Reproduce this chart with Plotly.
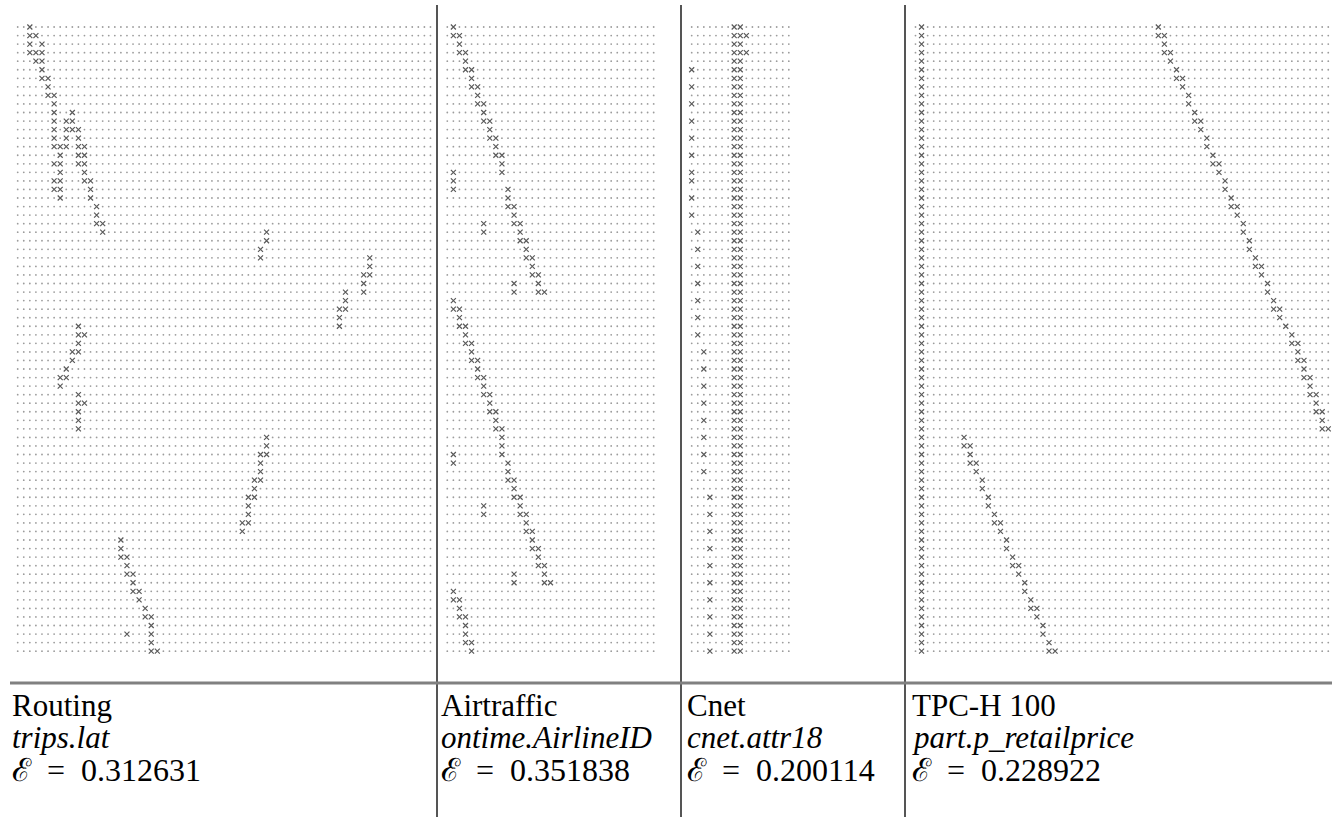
import plotly.graph_objects as go

W, H = 1332, 817

# ---------------- data ----------------
panel_names = ["Routing", "Airtraffic", "Cnet", "TPC-H 100"]
panel_fields = ["trips.lat", "ontime.AirlineID", "cnet.attr18", "part.p_retailprice"]
panel_errors = ["0.312631", "0.351838", "0.200114", "0.228922"]
panel_ncols = [69, 35, 17, 69]
N_ROWS = 74

# per-row list of grid columns holding an "x"
routing_marks = [
    [2], [2, 3], [2, 4], [2, 3, 4], [3, 4], [4], [4, 5], [5], [5, 6], [6],
    [6, 9], [6, 8, 9], [6, 8, 9, 10], [6, 8, 10], [6, 7, 8, 10, 11], [7, 10, 11],
    [6, 7, 10, 11], [7, 11], [6, 7, 11, 12], [6, 7, 12], [7, 12], [13], [13],
    [13, 14], [14, 41], [41], [40], [40, 58], [58], [57, 58], [57], [54, 57],
    [54], [53, 54], [53], [10, 53], [10, 11], [10], [9, 10], [9], [8], [7, 8],
    [7], [10], [10, 11], [10], [10], [10], [41], [41], [40, 41], [40], [40],
    [39, 40], [39], [38, 39], [38], [38], [37, 38], [37], [17], [17], [17, 18],
    [18], [18, 19], [19], [19, 20], [20], [21], [21, 22], [22], [18, 22], [22],
    [22, 23],
]

airtraffic_marks = [
    [1], [1, 2], [2], [2, 3], [3], [3, 4], [4], [4, 5], [5], [5, 6], [6], [6, 7],
    [7], [7, 8], [8], [8, 9], [9], [1, 9], [1], [1, 10], [10], [10, 11], [11],
    [6, 11, 12], [6, 12], [12, 13], [13], [13, 14], [14], [14, 15], [11, 15],
    [11, 15, 16],
    [1], [1, 2], [2], [2, 3], [3], [3, 4], [4], [4, 5], [5], [5, 6], [6], [6, 7],
    [7], [7, 8], [8], [8, 9], [9], [9], [1, 9], [1, 10], [10], [10, 11], [11],
    [11, 12], [6, 12], [6, 12, 13], [13], [13, 14], [14], [14, 15], [15],
    [15, 16], [11, 16], [11, 16, 17],
    [1], [1, 2], [2], [2, 3], [3], [3], [3, 4], [4],
]

cnet_marks = [
    [7, 8], [7, 8, 9], [7, 8], [7, 8, 9], [7, 8], [0, 7, 8], [7, 8], [0, 7, 8],
    [7, 8], [0, 7, 8], [7, 8], [0, 7, 8], [7, 8], [0, 7, 8], [7, 8], [0, 7, 8],
    [7, 8], [0, 7, 8], [0, 7, 8], [7, 8], [0, 7, 8], [7, 8], [0, 7, 8], [7, 8],
    [1, 7, 8], [7, 8], [1, 7, 8], [7, 8], [1, 7, 8], [7, 8], [1, 7, 8], [7, 8],
    [1, 7, 8], [7, 8], [1, 7, 8], [7, 8], [1, 7, 8], [7, 8], [2, 7, 8], [7, 8],
    [2, 7, 8], [7, 8], [2, 7, 8], [7, 8], [2, 7, 8], [7, 8], [2, 7, 8], [7, 8],
    [2, 7, 8], [7, 8], [2, 7, 8], [7, 8], [2, 7, 8], [7, 8], [7, 8], [3, 7, 8],
    [7, 8], [3, 7, 8], [7, 8], [3, 7, 8], [7, 8], [3, 7, 8], [7, 8], [3, 7, 8],
    [7, 8], [3, 7, 8], [7, 8], [3, 7, 8], [7, 8], [3, 7, 8], [7, 8], [3, 7, 8],
    [7, 8], [3, 7, 8],
]

tpch_marks = [
    [1, 40], [1, 40, 41], [1, 41], [1, 41, 42], [1, 42], [1, 43], [1, 43, 44],
    [1, 44], [1, 45], [1, 45], [1, 46], [1, 46, 47], [1, 47], [1, 48], [1, 48],
    [1, 49], [1, 49, 50], [1, 50], [1, 51], [1, 51], [1, 52], [1, 52, 53],
    [1, 53], [1, 54], [1, 54], [1, 55], [1, 55], [1, 56], [1, 56, 57], [1, 57],
    [1, 58], [1, 58], [1, 59], [1, 59, 60], [1, 60], [1, 61], [1, 62],
    [1, 62, 63], [1, 63], [1, 63, 64], [1, 64], [1, 64, 65], [1, 65],
    [1, 65, 66], [1, 66], [1, 66, 67], [1, 67], [1, 67, 68],
    [1, 8], [1, 8, 9], [1, 9], [1, 9, 10], [1, 10], [1, 11], [1, 11], [1, 12],
    [1, 12], [1, 13], [1, 13, 14], [1, 14], [1, 15], [1, 15], [1, 16],
    [1, 16, 17], [1, 17], [1, 18], [1, 18], [1, 19], [1, 19, 20], [1, 20],
    [1, 21], [1, 21], [1, 22], [1, 22, 23],
]

all_marks = [routing_marks, airtraffic_marks, cnet_marks, tpch_marks]

# ---------------- layout geometry (pixels) ----------------
ROW_Y0, DY, DX = 27.0, 8.55, 6.07
GRID_BOTTOM = 683
panel_left = [0, 437, 681, 905]
panel_right = [437, 681, 905, 1332]
col0_x = [17.7, 447.3, 691.7, 915.5]
label_x = [10, 439, 685, 910]
label_y = [705, 737, 770]
label_size = [31, 31, 32]
sep_x = [437, 681, 905]
SERIF = "Liberation Serif"

fig = go.Figure()

for i, marks in enumerate(all_marks):
    ncol = panel_ncols[i]
    dot_x, dot_y, mk_x, mk_y = [], [], [], []
    for r in range(N_ROWS):
        row_marks = set(marks[r]) if r < len(marks) else set()
        for c in range(ncol):
            if c in row_marks:
                mk_x.append(c)
                mk_y.append(r)
            else:
                dot_x.append(c)
                dot_y.append(r)
    ax = "" if i == 0 else str(i + 1)
    fig.add_trace(go.Scatter(
        x=dot_x, y=dot_y, mode="markers", xaxis="x" + ax, yaxis="y" + ax,
        marker=dict(symbol="circle", size=1.8, color="#9c9c9c", line=dict(width=0)),
        hoverinfo="skip", showlegend=False))
    fig.add_trace(go.Scatter(
        x=mk_x, y=mk_y, mode="markers", xaxis="x" + ax, yaxis="y" + ax,
        marker=dict(symbol="x-thin", size=5, color="#5a5a5a",
                    line=dict(width=1.2, color="#5a5a5a")),
        hoverinfo="skip", showlegend=False))

    L, R = panel_left[i], panel_right[i]
    xa = dict(domain=[L / W, R / W],
              range=[(L - col0_x[i]) / DX, (R - col0_x[i]) / DX],
              visible=False, fixedrange=True)
    ya = dict(domain=[1 - GRID_BOTTOM / H, 1],
              range=[(GRID_BOTTOM - ROW_Y0) / DY, (0 - ROW_Y0) / DY],
              visible=False, fixedrange=True)
    if i > 0:
        ya["anchor"] = "x" + ax
        xa["anchor"] = "y" + ax
    fig.layout["xaxis" + ax] = xa
    fig.layout["yaxis" + ax] = ya

    texts = [panel_names[i], "<i>" + panel_fields[i] + "</i>",
             "ℰ\u2002=\u2002" + panel_errors[i]]
    for t, yp, fs in zip(texts, label_y, label_size):
        fig.add_annotation(
            x=label_x[i] / W, y=1 - yp / H, xref="paper", yref="paper",
            xanchor="left", yanchor="middle", text=t, showarrow=False,
            font=dict(family=SERIF, size=fs, color="#000"))

shapes = []
for sx in sep_x:
    shapes.append(dict(type="line", xref="paper", yref="paper",
                       x0=sx / W, x1=sx / W, y0=0, y1=1 - 5 / H,
                       line=dict(color="#555555", width=2)))
shapes.append(dict(type="line", xref="paper", yref="paper",
                   x0=10 / W, x1=1, y0=1 - GRID_BOTTOM / H, y1=1 - GRID_BOTTOM / H,
                   line=dict(color="#808080", width=3)))

fig.update_layout(
    width=W, height=H, margin=dict(l=0, r=0, t=0, b=0),
    paper_bgcolor="white", plot_bgcolor="white",
    shapes=shapes, hovermode=False, showlegend=False)

fig.write_html("out.html", config={"displayModeBar": False})
